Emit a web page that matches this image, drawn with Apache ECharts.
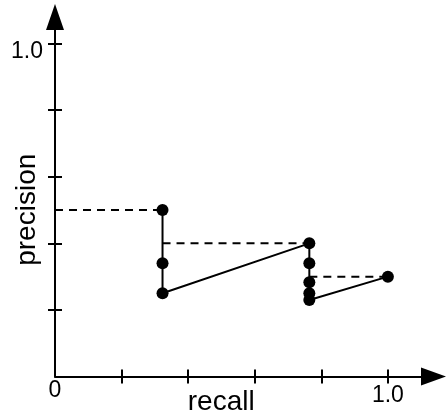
<!DOCTYPE html>
<html>
<head>
<meta charset="utf-8">
<script src="https://cdn.jsdelivr.net/npm/echarts@6/dist/echarts.min.js"></script>
<style>
  html, body { margin: 0; padding: 0; background: #fff; }
  #chart { width: 446px; height: 419px; }
</style>
</head>
<body>
<div id="chart"></div>
<script>
// precision / recall points
const recall = [0.323, 0.323, 0.323, 0.764, 0.764, 0.764, 0.764, 0.764, 1.0];
const precision = [0.5, 0.34, 0.25, 0.4, 0.34, 0.283, 0.25, 0.23, 0.3];
// interpolated precision (dashed steps)
const stepRecall = [0, 0.323, 0.764, 1.0];
const stepPrecision = [0.5, 0.4, 0.3];
// tick marks and labels
const tickValues = [0.2, 0.4, 0.6, 0.8, 1.0];
const xLabelValues = [0, 1.0];
const yLabelValues = [1.0];

const myChart = echarts.init(document.getElementById('chart'));
const font = 'Liberation Sans, Arial, sans-serif';
const black = '#000';

const points = recall.map((r, i) => [r, precision[i]]);
const dashed = stepPrecision.map((p, i) => ({
    type: 'line',
    data: [[stepRecall[i], p], [stepRecall[i + 1], p]],
    symbol: 'none',
    z: 1,
    lineStyle: { color: black, width: 2, type: [8, 6] }
}));

// two copies of each axis: one draws ticks outward, the other inward
function xAxis(inside, main) {
    return {
        type: 'value', position: 'bottom', min: 0, max: 1.137,
        splitLine: { show: false },
        axisLine: main ? {
            onZero: false,
            lineStyle: { color: black, width: 2 },
            symbol: ['none', 'triangle'], symbolSize: [18, 25]
        } : { show: false },
        axisTick: { inside: inside, length: 7, customValues: tickValues, lineStyle: { color: black, width: 2 } },
        axisLabel: main ? {
            customValues: xLabelValues, margin: 3, color: black, fontFamily: font, fontSize: 23,
            formatter: v => v === 0 ? '{a|0}' : '{b|1.0}',
            rich: { a: { fontSize: 23, fontFamily: font }, b: { fontSize: 23, fontFamily: font, padding: [5, 0, 0, 0] } }
        } : { show: false },
        name: main ? 'recall' : '', nameLocation: 'middle', nameGap: 12, nameMoveOverlap: false,
        nameTextStyle: { color: black, fontFamily: font, fontSize: 28, padding: [0, 46, 0, 0] }
    };
}
function yAxis(inside, main) {
    return {
        type: 'value', position: 'left', min: 0, max: 1.08,
        splitLine: { show: false },
        axisLine: main ? {
            onZero: false,
            lineStyle: { color: black, width: 2 },
            symbol: ['none', 'triangle'], symbolSize: [18, 26]
        } : { show: false },
        axisTick: { inside: inside, length: 7, customValues: tickValues, lineStyle: { color: black, width: 2 } },
        axisLabel: main ? {
            customValues: yLabelValues, margin: 12, color: black, fontFamily: font, fontSize: 23,
            formatter: v => v.toFixed(1), verticalAlign: 'top', lineHeight: 16
        } : { show: false },
        name: main ? 'precision' : '', nameLocation: 'middle', nameGap: 14, nameRotate: 90, nameMoveOverlap: false,
        nameTextStyle: { color: black, fontFamily: font, fontSize: 28, padding: [0, 26, 0, 0] }
    };
}

const option = {
    animation: false,
    grid: { left: 55, right: 12.5, top: 17, bottom: 42.5, containLabel: false, outerBoundsMode: 'none' },
    xAxis: [xAxis(false, true), xAxis(true, false)],
    yAxis: [yAxis(false, true), yAxis(true, false)],
    series: [
        ...dashed,
        {
            type: 'line',
            data: points,
            z: 3,
            symbol: 'circle',
            symbolSize: 12,
            itemStyle: { color: black },
            lineStyle: { color: black, width: 2 }
        }
    ]
};
myChart.setOption(option);
</script>
</body>
</html>
